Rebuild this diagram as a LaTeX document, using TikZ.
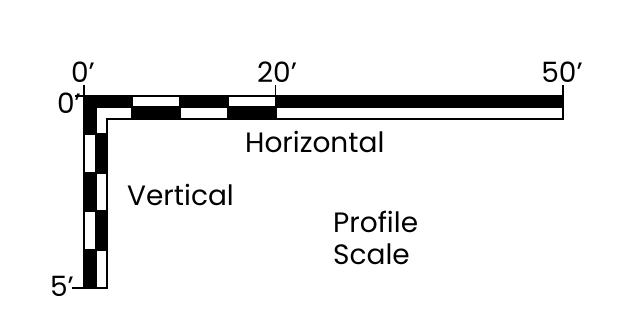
\documentclass[tikz,border=0pt]{standalone}
\usepackage{fontspec}
\setmainfont{Poppins}
\begin{document}
\begin{tikzpicture}[x=1pt,y=-1pt,
  cell/.style={draw=black,line width=2pt,line join=miter},
  blk/.style={cell,fill=black},
  wht/.style={cell,fill=white},
  tick/.style={draw=black,line width=1.6pt},
  lbl/.style={inner sep=0pt,font=\fontsize{28}{30}\selectfont}]
\useasboundingbox (0,0) rectangle (622,326);
\def\hA{84}\def\hB{131.9}\def\hC{179.8}\def\hD{227.7}\def\hE{275.6}\def\hF{563}
\def\vA{96}\def\vB{134.4}\def\vC{172.8}\def\vD{211.2}\def\vE{249.6}\def\vF{288}
% outer L black corner
\path[blk] (\hA,\vA) -- (\hB,\vA) -- (\hB,107.5) -- (95.5,107.5) -- (95.5,\vB) -- (\hA,\vB) -- cycle;
% inner L white corner
\path[wht] (95.5,107.5) -- (\hB,107.5) -- (\hB,119) -- (107,119) -- (107,\vB) -- (95.5,\vB) -- cycle;
% top row
\path[wht] (\hB,\vA) rectangle (\hC,107.5);
\path[blk] (\hC,\vA) rectangle (\hD,107.5);
\path[wht] (\hD,\vA) rectangle (\hE,107.5);
\path[blk] (\hE,\vA) rectangle (\hF,107.5);
% bottom row
\path[blk] (\hB,107.5) rectangle (\hC,119);
\path[wht] (\hC,107.5) rectangle (\hD,119);
\path[blk] (\hD,107.5) rectangle (\hE,119);
\path[wht] (\hE,107.5) rectangle (\hF,119);
% left column
\path[wht] (\hA,\vB) rectangle (95.5,\vC);
\path[blk] (\hA,\vC) rectangle (95.5,\vD);
\path[wht] (\hA,\vD) rectangle (95.5,\vE);
\path[blk] (\hA,\vE) rectangle (95.5,\vF);
% right column
\path[blk] (95.5,\vB) rectangle (107,\vC);
\path[wht] (95.5,\vC) rectangle (107,\vD);
\path[blk] (95.5,\vD) rectangle (107,\vE);
\path[wht] (95.5,\vE) rectangle (107,\vF);
% ticks
\coordinate (t0a) at (\hA,85); \coordinate (t0b) at (\hA,\vA);
\coordinate (t20a) at (\hE,85); \coordinate (t20b) at (\hE,\vA);
\coordinate (t50a) at (\hF,85); \coordinate (t50b) at (\hF,\vA);
\coordinate (l0a) at (75,\vA);
\coordinate (l5a) at (72,\vF); \coordinate (l5b) at (\hA,\vF);
\draw[tick] (t0a) -- (t0b);
\draw[tick] (t20a) -- (t20b);
\draw[tick] (t50a) -- (t50b);
\draw[tick] (l0a) -- (t0b);
\draw[tick] (l5a) -- (l5b);
% labels
\node[lbl,anchor=base] (h0) at (83,83) {0’};
\node[lbl,anchor=base] (h20) at (277,83) {20’};
\node[lbl,anchor=base] (h50) at (562,83) {50’};
\node[lbl,anchor=base east] (v0) at (81,114) {0’};
\node[lbl,anchor=base east] (v5) at (74,296) {5’};
\node[lbl,anchor=base west] (hz) at (245,153) {Horizontal};
\node[lbl,anchor=base west] (vt) at (127,206) {Vertical};
\node[lbl,anchor=base west] (pf) at (333,233) {Profile};
\node[lbl,anchor=base west] (sc) at (333,265) {Scale};
\end{tikzpicture}
\end{document}
